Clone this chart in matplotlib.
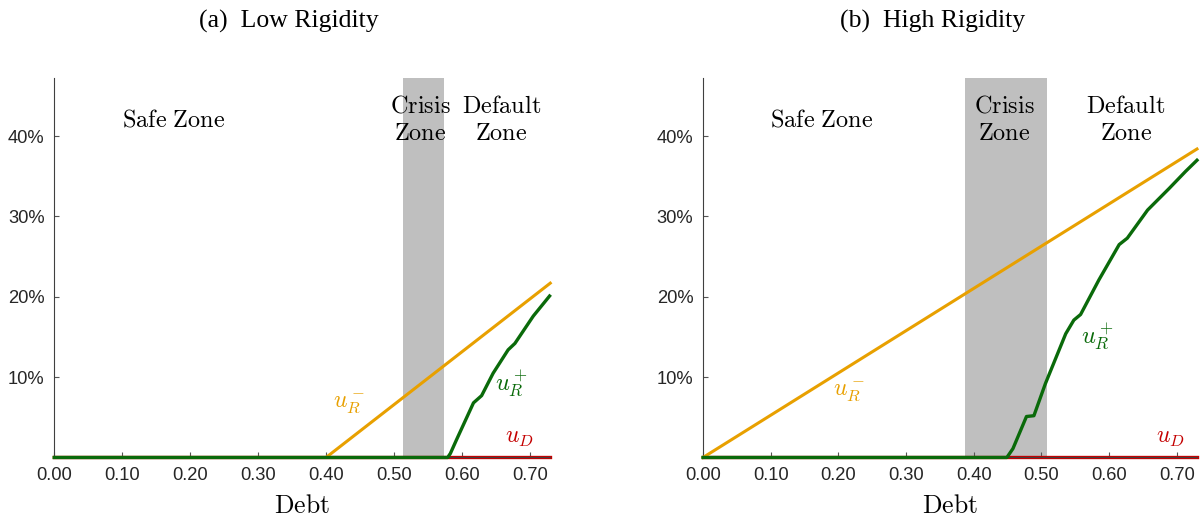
"""Default-risk zones under low and high wage rigidity: u_R^-, u_R^+ and u_D vs debt."""
import matplotlib

matplotlib.use("Agg")
import matplotlib.pyplot as plt
from matplotlib.ticker import FuncFormatter

plt.rcParams["mathtext.fontset"] = "cm"

# panel (a): low rigidity
low_crisis = (0.513, 0.573)
low_ur_minus_x = [0.0, 0.40, 0.73]
low_ur_minus_y = [0.0, 0.0, 0.217]
low_ur_plus_x = [0.0, 0.579, 0.583, 0.592, 0.617, 0.629, 0.646, 0.668, 0.678, 0.705, 0.729]
low_ur_plus_y = [0.0, 0.0, 0.005, 0.022, 0.068, 0.077, 0.105, 0.134, 0.142, 0.176, 0.201]

# panel (b): high rigidity
high_crisis = (0.387, 0.508)
high_ur_minus_x = [0.0, 0.73]
high_ur_minus_y = [0.0, 0.384]
high_ur_plus_x = [0.0, 0.449, 0.458, 0.478, 0.489, 0.506, 0.536, 0.548, 0.558,
                  0.585, 0.615, 0.627, 0.657, 0.689, 0.713, 0.730]
high_ur_plus_y = [0.0, 0.0, 0.011, 0.051, 0.052, 0.092, 0.154, 0.171, 0.178,
                  0.221, 0.265, 0.273, 0.308, 0.335, 0.356, 0.370]

ud_x = [0.0, 0.73]
ud_y = [0.0, 0.0]

x_ticks = [0.0, 0.1, 0.2, 0.3, 0.4, 0.5, 0.6, 0.7]
y_ticks = [0.1, 0.2, 0.3, 0.4]

ORANGE = "#E8A000"
GREEN = "#0A6A0A"
RED = "#C40000"
GRAY = "#BFBFBF"

panels = [
    dict(title=r"(a)  Low Rigidity", title_x=0.240,
         crisis=low_crisis,
         urm=(low_ur_minus_x, low_ur_minus_y),
         urp=(low_ur_plus_x, low_ur_plus_y),
         zones=[(0.176, "Safe Zone"), (0.539, "Crisis\nZone"), (0.658, "Default\nZone")],
         lab_urm=(0.434, 0.066), lab_urp=(0.672, 0.092), lab_ud=(0.684, 0.025),
         rect=[0.0451, 0.1236, 0.4123, 0.7264]),
    dict(title=r"(b)  High Rigidity", title_x=0.775,
         crisis=high_crisis,
         urm=(high_ur_minus_x, high_ur_minus_y),
         urp=(high_ur_plus_x, high_ur_plus_y),
         zones=[(0.176, "Safe Zone"), (0.445, "Crisis\nZone"), (0.625, "Default\nZone")],
         lab_urm=(0.216, 0.082), lab_urp=(0.582, 0.150), lab_ud=(0.690, 0.025),
         rect=[0.5844, 0.1236, 0.4106, 0.7264]),
]


def zone_text(label):
    # render in Computer Modern roman via mathtext, one line at a time
    lines = [r"$\mathrm{" + ln.replace(" ", r"\ ") + "}$" for ln in label.split("\n")]
    return "\n".join(lines)


fig = plt.figure(figsize=(12.03, 5.22), dpi=100)

for p in panels:
    ax = fig.add_axes(p["rect"])
    ax.axvspan(*p["crisis"], color=GRAY, lw=0, zorder=0)
    ax.plot(ud_x, ud_y, color=RED, lw=2.4, zorder=2, clip_on=False)
    ax.plot(*p["urm"], color=ORANGE, lw=2.2, zorder=3, clip_on=False)
    ax.plot(*p["urp"], color=GREEN, lw=2.4, zorder=4, clip_on=False)

    ax.set_xlim(0, 0.73)
    ax.set_ylim(0, 0.472)
    ax.set_xticks(x_ticks)
    ax.set_yticks(y_ticks)
    ax.xaxis.set_major_formatter(FuncFormatter(lambda v, _: f"{v:.2f}"))
    ax.yaxis.set_major_formatter(FuncFormatter(lambda v, _: f"{v * 100:.0f}%"))
    ax.tick_params(direction="in", length=3.5, width=0.8, color="#555555",
                   labelsize=13.2, labelcolor="#262626", pad=7)
    for lbl in ax.get_xticklabels() + ax.get_yticklabels():
        lbl.set_family("Liberation Sans")
    for side in ("top", "right"):
        ax.spines[side].set_visible(False)
    ax.spines["left"].set_color("#404040")
    ax.spines["bottom"].set_color("#404040")

    ax.set_xlabel(r"$\mathrm{Debt}$", fontsize=18.5, labelpad=6)

    for zx, zl in p["zones"]:
        ax.text(zx, 0.421, zone_text(zl), ha="center", va="center",
                fontsize=17.5, linespacing=1.18, zorder=5)

    ax.text(*p["lab_urm"], r"$u_R^-$", color=ORANGE, fontsize=17,
            ha="center", va="center")
    ax.text(*p["lab_urp"], r"$u_R^+$", color=GREEN, fontsize=17.5,
            ha="center", va="center")
    ax.text(*p["lab_ud"], r"$u_D$", color=RED, fontsize=17,
            ha="center", va="center")

    fig.text(p["title_x"], 0.958, p["title"], ha="center", va="center",
             fontsize=18.5, family="Liberation Serif")

fig.savefig("out.png", dpi=100)
